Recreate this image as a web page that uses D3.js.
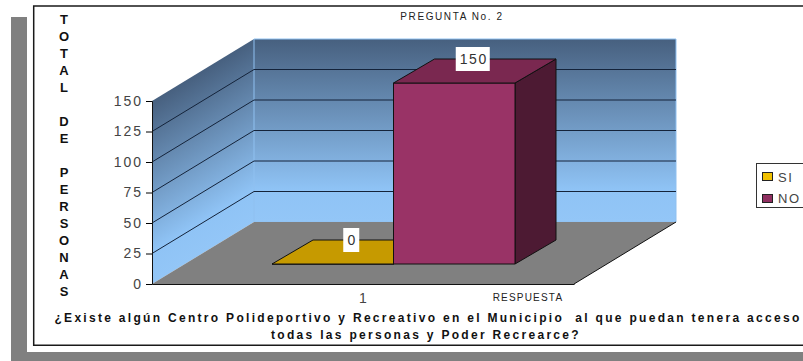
<!DOCTYPE html>
<html>
<head>
<meta charset="utf-8">
<script src="https://cdn.jsdelivr.net/npm/d3@7"></script>
<style>
html,body{margin:0;padding:0;background:#fff}
svg{display:block}
text{font-family:"Liberation Sans",Arial,sans-serif}
</style>
</head>
<body>
<div id="chart"></div>
<script>
const categories = ['1']
const seriesNames = ['SI','NO']
const seriesValues = [0,150]
const seriesColors = ['#c69a00','#993366']
const seriesTops = ['#c69a00','#7a2850']
const seriesSides = ['#8a6c00','#4d1a33']
const legendColors = ['#f0c000','#8f2f60']
const yTicks = [0,25,50,75,100,125,150]
const yTitle = 'TOTAL DE PERSONAS'
const chartTitle = 'PREGUNTA No. 2'
const xTitle = 'RESPUESTA'
const captionLines = ['¿Existe algún Centro Polideportivo y Recreativo en el Municipio  al que puedan tenera acceso','todas las personas y Poder Recrearce?']

const width = 803, height = 361
const svg = d3.select('#chart').append('svg').attr('width',width).attr('height',height)
const defs = svg.append('defs')

// frame
svg.append('rect').attr('width',width).attr('height',height).attr('fill','#fff')
svg.append('path').attr('d','M11 17H27V352H803V361H11Z').attr('fill','#808080')
svg.append('path').attr('d','M803 6H33.7V345.3H803').attr('fill','none').attr('stroke','#1a1a1a').attr('stroke-width',1.5)

// scales, depth runs 0 (front) to 1 (back)
const y = d3.scaleLinear().domain([0,150]).range([284,101])
const x = d3.scaleBand().domain(categories).range([152,574])
const dx = d3.scaleLinear().domain([0,1]).range([0,102])
const dy = d3.scaleLinear().domain([0,1]).range([0,-62])
const pt = (px,v,d) => [px+dx(d),y(v)+dy(d)]
const poly = pts => 'M'+pts.map(p=>p.join(',')).join('L')+'Z'

const x0 = x.range()[0], x1 = x.range()[1]

const wallStops = [[0,'#47607f'],[0.82,'#8fc3f5'],[1,'#93c6f7']]
const grad = (id,a,b) => {
  const g = defs.append('linearGradient').attr('id',id).attr('gradientUnits','userSpaceOnUse')
    .attr('x1',a[0]).attr('y1',a[1]).attr('x2',b[0]).attr('y2',b[1])
  wallStops.forEach(s=>g.append('stop').attr('offset',s[0]).attr('stop-color',s[1]))
}
// back wall runs straight down, side wall shades along its slope
grad('backWall',pt(x0,150,1),pt(x0,0,1))
const sx = dx(1), sy = -dy(1), sh = y(0)-y(150), st = sx*sh/(sx*sx+sy*sy)
grad('sideWall',pt(x0,150,0),[x0+sy*st,y(150)+sx*st])

// left wall, back wall, floor
svg.append('path').attr('d',poly([pt(x0,0,0),pt(x0,150,0),pt(x0,150,1),pt(x0,0,1)])).attr('fill','url(#sideWall)')
svg.append('path').attr('d',poly([pt(x0,0,1),pt(x0,150,1),pt(x1,150,1),pt(x1,0,1)])).attr('fill','url(#backWall)')
  .attr('stroke','#8fc0f0').attr('stroke-width',1)
svg.append('path').attr('d',poly([pt(x0,0,0),pt(x0,0,1),pt(x1,0,1),pt(x1,0,0)])).attr('fill','#808080')

// gridlines
const gridTicks = yTicks.filter(t=>t>0&&t<150)
svg.append('g').selectAll('path').data(gridTicks).join('path')
  .attr('d',t=>d3.line()([pt(x0,t,0),pt(x0,t,1),pt(x1,t,1)]))
  .attr('fill','none').attr('stroke','#14233a').attr('stroke-width',1)

// axes
const yAxis = d3.axisLeft(y).tickValues(yTicks).tickSize(6).tickPadding(3)
const gy = svg.append('g').attr('transform',`translate(${x0},0)`).call(yAxis)
gy.selectAll('text').attr('font-size',14).attr('fill','#444').style('letter-spacing','2px')
gy.select('.domain').attr('stroke','#111')
const xAxis = d3.axisBottom(x).tickSize(0).tickPadding(9)
const gx = svg.append('g').attr('transform',`translate(0,${y(0)})`).call(xAxis)
gx.selectAll('text').attr('font-size',14).attr('fill','#444')
gx.select('.domain').attr('stroke','#111')
svg.append('path').attr('d',d3.line()([pt(x1,0,0),pt(x1,0,1)])).attr('stroke','#111').attr('fill','none')

// bars
const barX = d3.scaleBand().domain(seriesNames).range([272,515])
const barY = d3.scaleLinear().domain([0,150]).range([264,83])
const ddx = 41, ddy = -24
const bars = svg.append('g')
seriesNames.forEach((name,i)=>{
  const v = seriesValues[i]
  const l = barX(name), r = l+barX.bandwidth()
  const a = [l,barY(v)], b = [r,barY(v)], c = [r+ddx,barY(v)+ddy], e = [l+ddx,barY(v)+ddy]
  const bb = [r,barY(0)], bc = [r+ddx,barY(0)+ddy]
  const g = bars.append('g').attr('stroke','#111').attr('stroke-width',1).attr('stroke-linejoin','round')
  g.append('path').attr('d',poly([b,c,bc,bb])).attr('fill',seriesSides[i])
  g.append('path').attr('d',poly([a,b,bb,[l,barY(0)]])).attr('fill',seriesColors[i])
  g.append('path').attr('d',poly([a,b,c,e])).attr('fill',seriesTops[i])
})

// value labels sit on the back edge of each bar top
seriesNames.forEach((name,i)=>{
  const s = String(seriesValues[i])
  const w = s.length*9+7
  const lx = barX(name)+barX.bandwidth()/2+ddx/2-2
  const ly = barY(seriesValues[i])+ddy
  svg.append('rect').attr('x',lx-w/2).attr('y',ly-12).attr('width',w).attr('height',24).attr('fill','#fff')
  svg.append('text').attr('x',lx+1).attr('y',ly+5).attr('text-anchor','middle')
    .attr('font-size',14).attr('fill','#333').style('letter-spacing','1.5px').text(s)
})

// titles
svg.append('text').attr('x',452).attr('y',20).attr('text-anchor','middle').attr('font-size',10)
  .attr('fill','#222').style('letter-spacing','1.6px').text(chartTitle)
svg.append('text').attr('x',528).attr('y',301).attr('text-anchor','middle').attr('font-size',10)
  .attr('fill','#222').style('letter-spacing','1.2px').text(xTitle)
svg.append('text').attr('x',428).attr('y',322).attr('text-anchor','middle').attr('font-size',12)
  .attr('font-weight','bold').attr('fill','#111').style('letter-spacing','2.3px').attr('xml:space','preserve').text(captionLines[0])
svg.append('text').attr('x',426).attr('y',339).attr('text-anchor','middle').attr('font-size',12)
  .attr('font-weight','bold').attr('fill','#111').style('letter-spacing','2.3px').text(captionLines[1])

// vertical y title
const yChars = yTitle.split('')
const yLine = d3.scaleLinear().domain([0,yChars.length-1]).range([24,296])
svg.append('g').selectAll('text').data(yChars).join('text')
  .attr('x',64).attr('y',(c,i)=>yLine(i)).attr('text-anchor','middle')
  .attr('font-size',13).attr('font-weight','bold').attr('fill','#111').text(c=>c)

// legend
const lg = svg.append('g')
lg.append('rect').attr('x',756.5).attr('y',163.5).attr('width',48).attr('height',44).attr('fill','#fff').attr('stroke','#333')
seriesNames.forEach((name,i)=>{
  lg.append('rect').attr('x',762.5).attr('y',172.5+i*22).attr('width',10).attr('height',8).attr('fill',legendColors[i]).attr('stroke','#222')
  lg.append('text').attr('x',778).attr('y',182+i*21).attr('font-size',13).attr('fill','#444').style('letter-spacing','1.5px').text(name)
})
</script>
</body>
</html>
